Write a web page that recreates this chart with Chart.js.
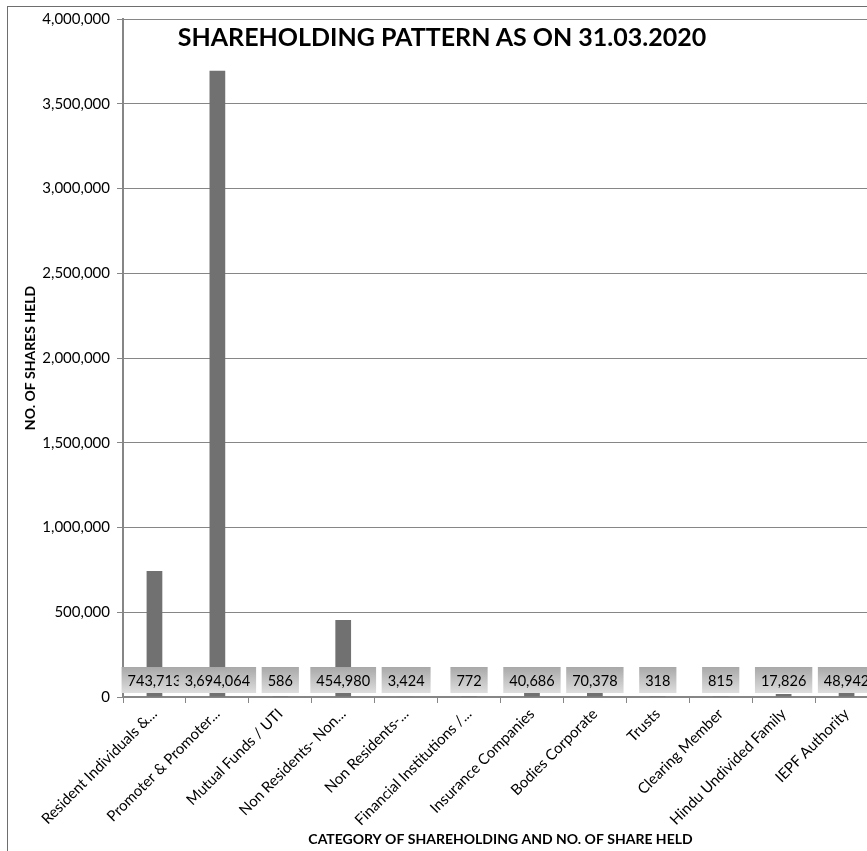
<!DOCTYPE html>
<html>
<head>
<meta charset="utf-8">
<script src="https://cdn.jsdelivr.net/npm/chart.js@4.4.1/dist/chart.umd.min.js"></script>
<style>
  html, body { margin: 0; padding: 0; background: #fff; overflow: hidden; }
  #frame {
    position: absolute; left: 7px; top: 6px; width: 900px; height: 860px;
    border-left: 1px solid #6e6e6e; border-top: 1px solid #6e6e6e;
  }
  #wrap { position: absolute; left: 0; top: 0; width: 890px; height: 851px; }
  #title {
    position: absolute; left: 0; width: 884px; top: 21px; text-align: center;
    font: bold 25px Lato, sans-serif; color: #000; pointer-events: none;
  }
</style>
</head>
<body>
<div id="frame"></div>
<div id="wrap"><canvas id="chart"></canvas></div>
<div id="title">SHAREHOLDING PATTERN AS ON 31.03.2020</div>
<script>
const categories = [
  'Resident Individuals &...', 'Promoter & Promoter...', 'Mutual Funds / UTI',
  'Non Residents- Non...', 'Non Residents-...', 'Financial Institutions /...',
  'Insurance Companies', 'Bodies Corporate', 'Trusts', 'Clearing Member',
  'Hindu Undivided Family', 'IEPF Authority'
];
const sharesHeld = [743713, 3694064, 586, 454980, 3424, 772, 40686, 70378, 318, 815, 17826, 48942];
const yTicks = [0, 500000, 1000000, 1500000, 2000000, 2500000, 3000000, 3500000, 4000000];

const fmt = v => v.toLocaleString('en-US');
const FONT = 'Lato, sans-serif';

// grey value boxes sitting just above the category axis
const valueBoxes = {
  id: 'valueBoxes',
  afterDatasetsDraw(chart) {
    const { ctx, scales: { x, y } } = chart;
    const base = y.getPixelForValue(0);
    const top = base - 30, h = 26;
    ctx.save();
    ctx.font = '14.5px ' + FONT;
    ctx.textAlign = 'center';
    ctx.textBaseline = 'middle';
    sharesHeld.forEach((v, i) => {
      const cx = x.getPixelForValue(i);
      const txt = fmt(v);
      const w = ctx.measureText(txt).width + 12;
      const g = ctx.createLinearGradient(0, top, 0, top + h);
      g.addColorStop(0, '#a8a8a8');
      g.addColorStop(1, '#dedede');
      ctx.fillStyle = g;
      ctx.fillRect(cx - w / 2, top, w, h);
      ctx.fillStyle = '#000';
      ctx.fillText(txt, cx, top + h / 2 + 1);
    });
    ctx.restore();
  }
};

new Chart(document.getElementById('chart'), {
  type: 'bar',
  data: {
    labels: categories,
    datasets: [{
      data: sharesHeld,
      backgroundColor: '#717171',
      categoryPercentage: 0.5,
      barPercentage: 0.5,
    }]
  },
  options: {
    responsive: true,
    maintainAspectRatio: false,
    animation: false,
    layout: { padding: { left: 8, top: 19, right: 12, bottom: 0 } },
    plugins: { legend: { display: false }, tooltip: { enabled: false } },
    scales: {
      x: {
        grid: { drawOnChartArea: false, drawTicks: true, tickLength: 6, color: '#868686', lineWidth: 1 },
        border: { color: '#868686', width: 2 },
        ticks: { color: '#000', font: { family: FONT, size: 15 }, minRotation: 45, maxRotation: 45, autoSkip: false, padding: 2 },
        title: {
          display: true, text: 'CATEGORY OF SHAREHOLDING AND NO. OF SHARE HELD', color: '#000',
          font: { family: FONT, size: 14, weight: 'bold' }, padding: { top: 0, bottom: 3 }
        },
        afterFit: s => { s.height = 154; }
      },
      y: {
        min: 0, max: 4000000,
        afterBuildTicks: s => { s.ticks = yTicks.map(v => ({ value: v })); },
        grid: { color: '#868686', lineWidth: 1, tickLength: 6 },
        border: { color: '#868686', width: 2 },
        ticks: { color: '#000', font: { family: FONT, size: 15 }, padding: 7, callback: v => fmt(v) },
        title: {
          display: true, text: 'NO. OF SHARES HELD', color: '#000',
          font: { family: FONT, size: 14, weight: 'bold' }, padding: { top: 14, bottom: 0 }
        },
        afterFit: s => { s.width = 115; }
      }
    }
  },
  plugins: [valueBoxes]
});
</script>
</body>
</html>
